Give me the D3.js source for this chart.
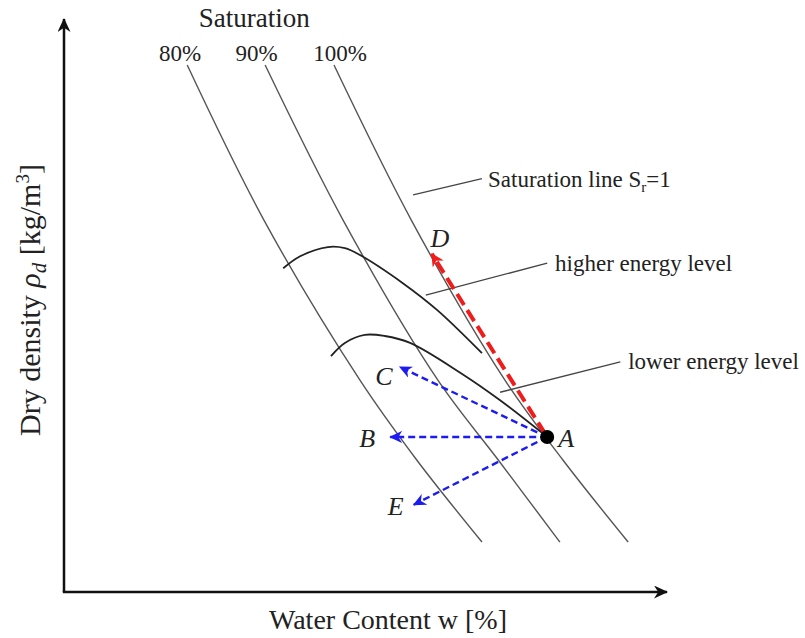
<!DOCTYPE html>
<html>
<head>
<meta charset="utf-8">
<script src="https://cdn.jsdelivr.net/npm/d3@7"></script>
<style>
  body { margin: 0; background: #fff; }
  text { font-family: "Liberation Serif", "Times New Roman", serif; fill: #222; }
</style>
</head>
<body>
<svg id="chart" width="805" height="638"></svg>
<script>
// Schematic units: water content w (0–100) and dry density rho_d (0–100)
const saturationLabels = ["80%", "90%", "100%"];
const sat80  = [[20.4, 91.8], [33.1, 64.8], [49.0, 36.9], [58.4, 23.0], [69.2, 8.7]];
const sat90  = [[33.3, 91.8], [46.2, 64.8], [61.9, 36.9], [71.9, 23.0], [82.1, 8.7]];
const sat100 = [[44.7, 91.8], [57.5, 64.8], [73.0, 36.9], [82.6, 23.0], [93.4, 8.7]];

// Compaction curves for two energy levels
const higherEnergy = [[36.3, 56.4], [39.1, 58.5], [43.7, 60.1], [46.5, 59.9], [49.0, 58.7], [56.1, 53.8], [61.8, 49.1], [69.2, 41.6]];
const lowerEnergy  = [[44.2, 41.1], [46.5, 43.4], [49.8, 44.8], [53.1, 44.6], [57.3, 43.4], [65.6, 38.2], [72.2, 33.4], [80.0, 27.0]];

// State A and the paths leaving it
const pointA = [80.0, 27.0];
const bluePaths = [
  { name: "C", to: [55.6, 39.2] },
  { name: "B", to: [54.0, 27.0] },
  { name: "E", to: [57.9, 15.2] }
];
const redPath = { name: "D", to: [60.9, 58.9] };

const svg = d3.select("#chart");
const x = d3.scaleLinear().domain([0, 100]).range([64, 668]);
const y = d3.scaleLinear().domain([0, 100]).range([592, 18]);

// Arrow markers
const defs = svg.append("defs");
function marker(id, color, len, half) {
  defs.append("marker")
    .attr("id", id)
    .attr("viewBox", `0 ${-half} ${len} ${2 * half}`)
    .attr("refX", len - 1).attr("refY", 0)
    .attr("markerUnits", "userSpaceOnUse")
    .attr("markerWidth", len).attr("markerHeight", 2 * half)
    .attr("orient", "auto")
    .append("path")
    .attr("d", `M0,${-half}L${len},0L0,${half}L${len * 0.3},0Z`)
    .attr("fill", color);
}
marker("axisArrow", "#111", 14, 6.5);
marker("blueArrow", "#1c1cf0", 13, 6);
marker("redArrow", "#f01c1c", 13, 6.5);

// Axes
svg.append("line")
  .attr("x1", x(0)).attr("y1", y(0)).attr("x2", x(0)).attr("y2", y(100) + 1)
  .attr("stroke", "#111").attr("stroke-width", 2.5).attr("marker-end", "url(#axisArrow)");
svg.append("line")
  .attr("x1", x(0) - 1.2).attr("y1", y(0)).attr("x2", x(100) - 1).attr("y2", y(0))
  .attr("stroke", "#111").attr("stroke-width", 2.5).attr("marker-end", "url(#axisArrow)");

svg.append("text")
  .attr("x", 388).attr("y", 629)
  .attr("text-anchor", "middle").attr("font-size", 28)
  .text("Water Content w [%]");

const yTitle = svg.append("text")
  .attr("transform", "translate(40,300) rotate(-90)")
  .attr("text-anchor", "middle").attr("font-size", 30);
yTitle.append("tspan").text("Dry density ");
yTitle.append("tspan").attr("font-style", "italic").text("ρ");
yTitle.append("tspan").attr("font-style", "italic").attr("font-size", 21).attr("dy", 6).text("d");
yTitle.append("tspan").attr("dy", -6).text(" [kg/m");
yTitle.append("tspan").attr("font-size", 19).attr("dy", -11).text("3");
yTitle.append("tspan").attr("dy", 11).text("]");

// Saturation lines
const line = d3.line().x(d => x(d[0])).y(d => y(d[1])).curve(d3.curveCatmullRom);
[sat80, sat90, sat100].forEach(s => {
  svg.append("path").attr("d", line(s))
    .attr("fill", "none").attr("stroke", "#555").attr("stroke-width", 1.4);
});

svg.append("text")
  .attr("x", x(31.5)).attr("y", y(98.4))
  .attr("text-anchor", "middle").attr("font-size", 27)
  .text("Saturation");
const pctX = [19.2, 31.9, 45.7];
saturationLabels.forEach((lab, i) => {
  svg.append("text")
    .attr("x", x(pctX[i])).attr("y", y(92.5))
    .attr("text-anchor", "middle").attr("font-size", 23)
    .text(lab);
});

// Compaction curves
const smooth = d3.line().x(d => x(d[0])).y(d => y(d[1])).curve(d3.curveCatmullRom);
[higherEnergy, lowerEnergy].forEach(c => {
  svg.append("path").attr("d", smooth(c))
    .attr("fill", "none").attr("stroke", "#222").attr("stroke-width", 1.8);
});

// Leader lines and annotation texts
const notes = [
  { from: [57.8, 69.2], to: [69.2, 72.0], at: [70.2, 70.6], text: "Saturation line S", sub: "r", tail: "=1" },
  { from: [59.9, 51.7], to: [80.0, 57.3], at: [81.3, 55.9], text: "higher energy level" },
  { from: [72.2, 34.8], to: [92.1, 40.1], at: [93.4, 38.9], text: "lower energy level" }
];
notes.forEach(n => {
  svg.append("line")
    .attr("x1", x(n.from[0])).attr("y1", y(n.from[1]))
    .attr("x2", x(n.to[0])).attr("y2", y(n.to[1]))
    .attr("stroke", "#444").attr("stroke-width", 1.3);
  const t = svg.append("text")
    .attr("x", x(n.at[0])).attr("y", y(n.at[1]))
    .attr("font-size", 23);
  t.append("tspan").text(n.text);
  if (n.sub) {
    t.append("tspan").attr("font-size", 15).attr("dy", 5).text(n.sub);
    t.append("tspan").attr("dy", -5).text(n.tail);
  }
});

// Red path A -> D along the saturation line
svg.append("line")
  .attr("x1", x(pointA[0])).attr("y1", y(pointA[1]))
  .attr("x2", x(redPath.to[0])).attr("y2", y(redPath.to[1]))
  .attr("stroke", "#f01c1c").attr("stroke-width", 4)
  .attr("stroke-dasharray", "13,6").attr("stroke-dashoffset", -4)
  .attr("marker-end", "url(#redArrow)");

// Blue paths A -> B, C, E
bluePaths.forEach(p => {
  svg.append("line")
    .attr("x1", x(pointA[0])).attr("y1", y(pointA[1]))
    .attr("x2", x(p.to[0])).attr("y2", y(p.to[1]))
    .attr("stroke", "#1c1cf0").attr("stroke-width", 2.4)
    .attr("stroke-dasharray", "7,4")
    .attr("marker-end", "url(#blueArrow)");
});

svg.append("circle")
  .attr("cx", x(pointA[0])).attr("cy", y(pointA[1])).attr("r", 7)
  .attr("fill", "#000");

// Point labels
const labelOffsets = { A: [19, 10], B: [-23, 10], C: [-16, 18], E: [-18, 10], D: [8, -7] };
const labelPts = [{ name: "A", to: pointA }, ...bluePaths, redPath];
labelPts.forEach(p => {
  const o = labelOffsets[p.name];
  svg.append("text")
    .attr("x", x(p.to[0]) + o[0]).attr("y", y(p.to[1]) + o[1])
    .attr("text-anchor", "middle").attr("font-size", 26).attr("font-style", "italic")
    .text(p.name);
});
</script>
</body>
</html>
